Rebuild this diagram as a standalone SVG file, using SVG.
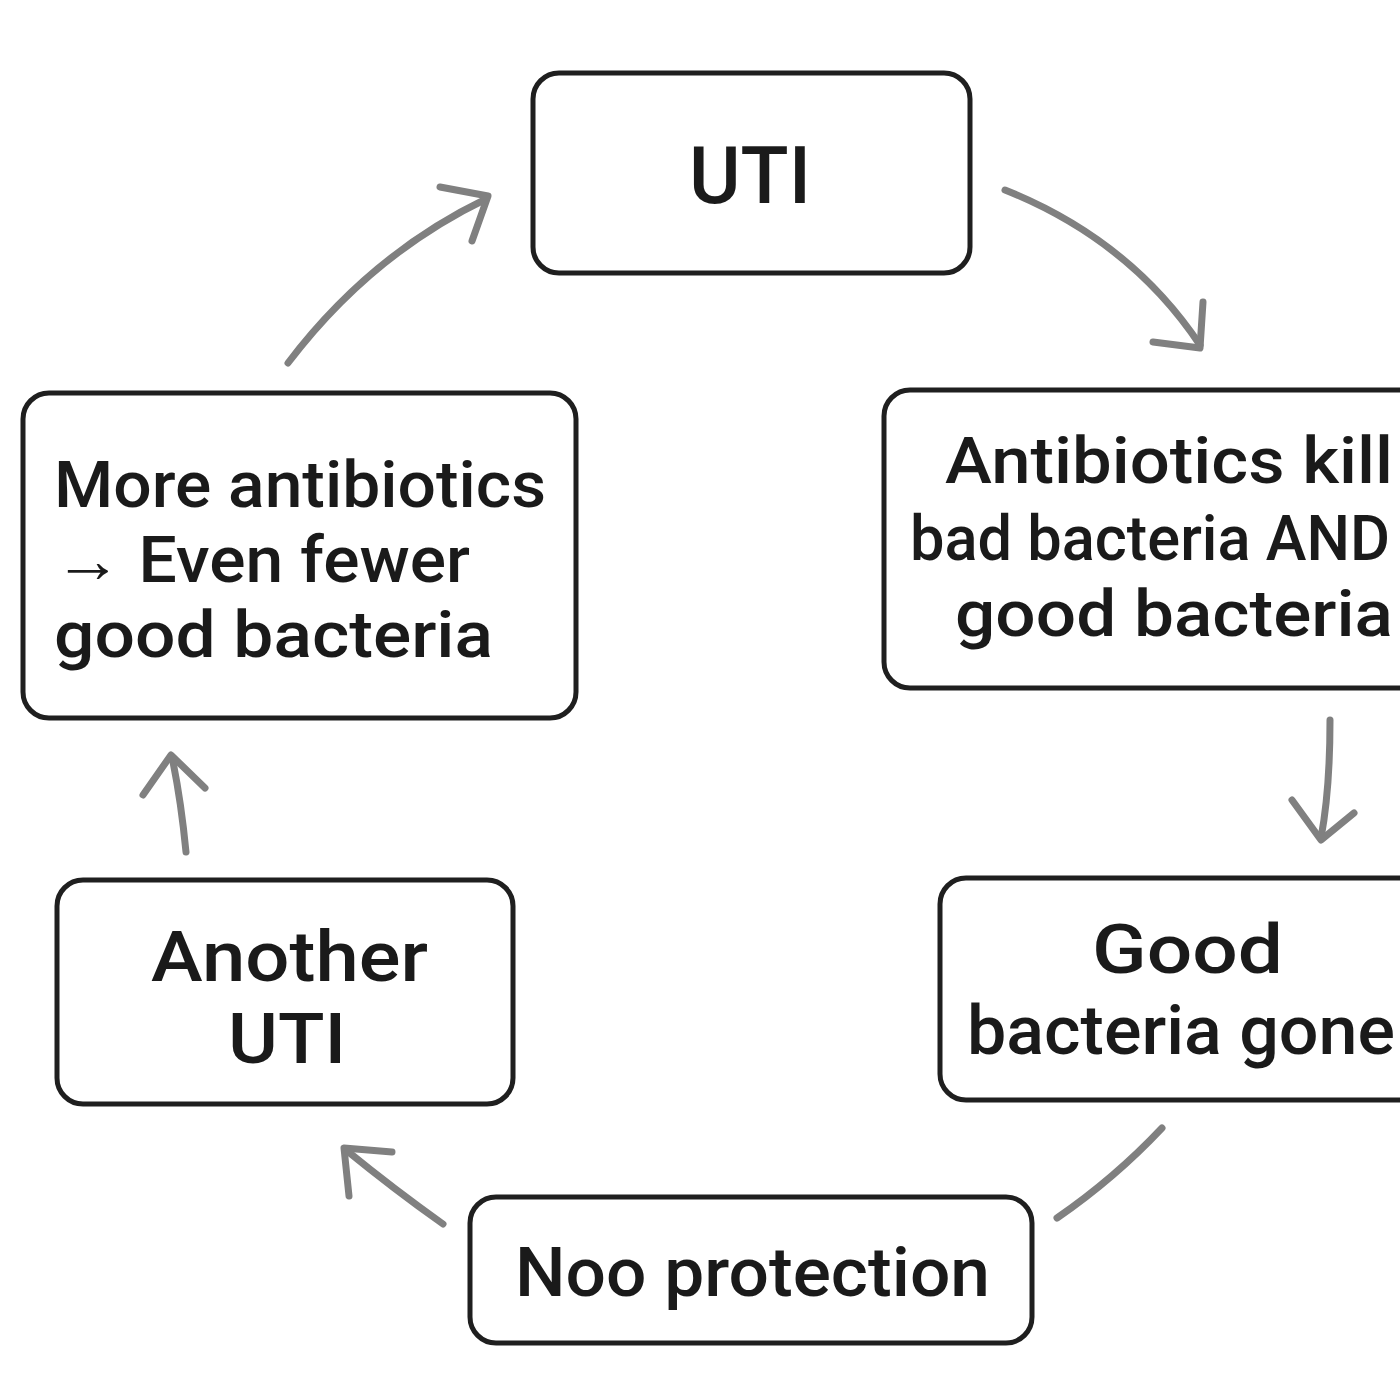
<svg xmlns="http://www.w3.org/2000/svg" width="1400" height="1400" viewBox="0 0 1400 1400">
<defs>
<style>
.box{fill:#fff;stroke:#1f1f1f;stroke-width:5}
.t{font-family:Roboto,"Noto Sans",sans-serif;font-weight:500;fill:#1a1a1a}
.c{fill:none;stroke:#808080;stroke-width:7;stroke-linecap:round;stroke-linejoin:round}
</style>
</defs>
<rect width="1400" height="1400" fill="#fff"/>
<g id="n-uti">
<rect class="box" x="533" y="73" width="437" height="200" rx="26"/>
<text class="t" x="689" y="203" font-size="79" textLength="122" lengthAdjust="spacingAndGlyphs">UTI</text>
</g>
<g id="n-antibiotics">
<rect class="box" x="884" y="390" width="560" height="298" rx="26"/>
<text class="t" x="945" y="483" font-size="65" textLength="448" lengthAdjust="spacingAndGlyphs">Antibiotics kill</text>
<text class="t" x="910" y="560" font-size="63" textLength="480" lengthAdjust="spacingAndGlyphs">bad bacteria AND</text>
<text class="t" x="955" y="636" font-size="65" textLength="438" lengthAdjust="spacingAndGlyphs">good bacteria</text>
</g>
<g id="n-good-gone">
<rect class="box" x="940" y="878" width="520" height="222" rx="26"/>
<text class="t" x="1092" y="973" font-size="68" textLength="191" lengthAdjust="spacingAndGlyphs">Good</text>
<text class="t" x="967" y="1054" font-size="68" textLength="428" lengthAdjust="spacingAndGlyphs">bacteria gone</text>
</g>
<g id="n-no-protection">
<rect class="box" x="470" y="1197" width="562" height="146" rx="26"/>
<text class="t" x="515" y="1296" font-size="68" textLength="475" lengthAdjust="spacingAndGlyphs">Noo protection</text>
</g>
<g id="n-another">
<rect class="box" x="57" y="880" width="456" height="224" rx="26"/>
<text class="t" x="151" y="981" font-size="70" textLength="277" lengthAdjust="spacingAndGlyphs">Another</text>
<text class="t" x="228" y="1063" font-size="70" textLength="118" lengthAdjust="spacingAndGlyphs">UTI</text>
</g>
<g id="n-more">
<rect class="box" x="23" y="393" width="553" height="325" rx="26"/>
<text class="t" x="54" y="507" font-size="64" textLength="492" lengthAdjust="spacingAndGlyphs">More antibiotics</text>
<text class="t" x="54" y="582" font-size="64" textLength="416" lengthAdjust="spacingAndGlyphs">→ Even fewer</text>
<text class="t" x="54" y="657" font-size="64" textLength="439" lengthAdjust="spacingAndGlyphs">good bacteria</text>
</g>
<g id="connectors">
<path class="c" d="M288 363 Q370 255 486 199"/>
<path class="c" d="M440 187 L488 196 L472 241"/>
<path class="c" d="M1005 190 Q1130 240 1200 345"/>
<path class="c" d="M1153 342 L1200 348 L1203 302"/>
<path class="c" d="M1330 720 Q1330 790 1321 838"/>
<path class="c" d="M1292 800 L1321 840 L1354 813"/>
<path class="c" d="M1162 1128 Q1115 1178 1057 1218"/>
<path class="c" d="M443 1224 Q395 1190 346 1150"/>
<path class="c" d="M349 1196 L344 1148 L392 1152"/>
<path class="c" d="M186 852 Q181 800 172 757"/>
<path class="c" d="M143 795 L171 755 L205 788"/>
</g>
</svg>
